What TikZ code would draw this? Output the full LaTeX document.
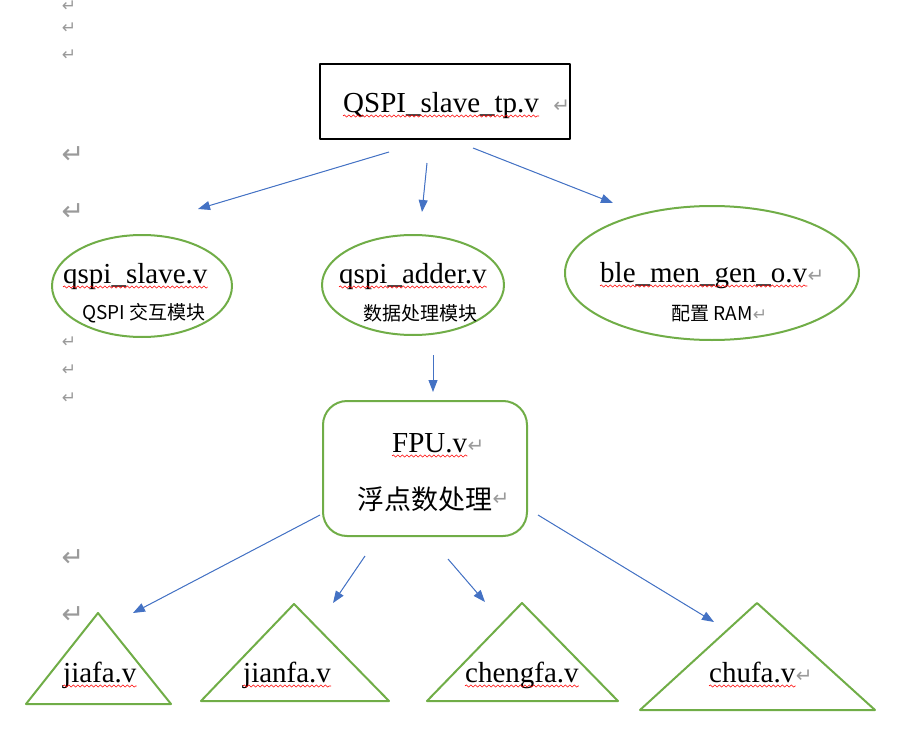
\documentclass[tikz,border=0pt]{standalone}
\usepackage{fontspec}
\setmainfont{Liberation Serif}
\newfontfamily\cjk{Noto Sans CJK SC}
\newfontfamily\symf{DejaVu Sans}
\usetikzlibrary{arrows.meta,decorations.pathmorphing}
\definecolor{wordblue}{HTML}{4472C4}
\definecolor{wordgreen}{HTML}{70AD47}
\definecolor{markgray}{HTML}{9A9A9A}
\tikzset{
  fname/.style={font=\fontsize{29}{30}\selectfont, inner sep=0pt, anchor=base west},
  zhsmall/.style={font=\cjk\fontsize{19}{20}\selectfont, inner sep=0pt},
  zhbig/.style={font=\cjk\fontsize{27}{28}\selectfont, inner sep=0pt},
  retmark/.style={text=markgray, font=\symf\fontsize{20}{21}\selectfont, inner sep=0pt},
  retsmall/.style={text=markgray, font=\symf\fontsize{17}{18}\selectfont, inner sep=0pt},
  retbig/.style={text=markgray, font=\symf\fontsize{27}{28}\selectfont, inner sep=0pt},
  link/.style={draw=wordblue, line width=1pt, -{Triangle[length=12pt,width=9pt]}, fill=wordblue},
  greenline/.style={draw=wordgreen, line width=2pt},
  squig/.style={draw=red, line width=0.6pt, decorate,
    decoration={snake, amplitude=1.1pt, segment length=4.5pt}},
}
\begin{document}
\begin{tikzpicture}[x=1pt, y=-1pt, line join=round]
  \useasboundingbox (0,0) rectangle (906,744);
  % left margin paragraph marks
  \foreach \y [count=\i] in {6,28,55,342,370,398}
    \node[retsmall] (ms\i) at (69,\y) {↵};
  \foreach \y [count=\i] in {155,212,558,615}
    \node[retbig] (mb\i) at (73,\y) {↵};
  % top module
  \draw[line width=2pt] (320,64) rectangle (570,139);
  \node[fname] (top) at (343,112) {QSPI\_slave\_tp.v};
  \node[retmark, anchor=base west] (topr) at ([xshift=14pt]top.base east) {↵};
  % second level
  \draw[greenline] (142,286) ellipse [x radius=90, y radius=51];
  \draw[greenline] (413,285) ellipse [x radius=91, y radius=50];
  \draw[greenline] (712,273) ellipse [x radius=147, y radius=67];
  \node[fname] (slave) at (63,283) {qspi\_slave.v};
  \node[zhsmall] (slavezh) at (144,313) {QSPI 交互模块};
  \node[fname] (adder) at (339,283) {qspi\_adder.v};
  \node[zhsmall] (adderzh) at (420,313) {数据处理模块};
  \node[fname] (ram) at (600,282) {ble\_men\_gen\_o.v};
  \node[retmark, anchor=base west] (ramr) at (ram.base east) {↵};
  \node[zhsmall, anchor=base west] (ramzh) at (671,320) {配置 RAM};
  \node[retsmall, anchor=base west] (ramzhr) at (ramzh.base east) {↵};
  % FPU
  \draw[greenline, rounded corners=24pt] (323,401) rectangle (527,536);
  \node[fname] (fpu) at (392,452) {FPU.v};
  \node[retmark, anchor=base west] (fpur) at (fpu.base east) {↵};
  \node[zhbig, anchor=west] (fpuzh) at (357,499) {浮点数处理};
  \node[retmark, anchor=west] (fpuzhr) at (fpuzh.east) {↵};
  % leaves
  \draw[greenline] (26,704) -- (98,613) -- (171,704) -- cycle;
  \draw[greenline] (201,701) -- (294,604) -- (389,701) -- cycle;
  \draw[greenline] (427,701) -- (522,603) -- (618,701) -- cycle;
  \draw[greenline] (640,710) -- (757,603) -- (875,710) -- cycle;
  \node[fname] (jia) at (63,682) {jiafa.v};
  \node[fname] (jian) at (243,682) {jianfa.v};
  \node[fname] (cheng) at (465,682) {chengfa.v};
  \node[fname] (chu) at (709,682) {chufa.v};
  \node[retmark, anchor=base west] (chur) at (chu.base east) {↵};
  % spelling marks
  \foreach \n in {top,slave,adder,ram,fpu,jia,jian,cheng,chu}
    \draw[squig] ([yshift=-4pt]\n.base west) -- ([yshift=-4pt]\n.base east);
  % connectors
  \coordinate (t1) at (389,152); \coordinate (s1) at (198,209);
  \coordinate (t2) at (427,163); \coordinate (s2) at (422,212);
  \coordinate (t3) at (473,148); \coordinate (s3) at (613,203);
  \coordinate (a1) at (433,355); \coordinate (f1) at (433,392);
  \coordinate (f2) at (320,515); \coordinate (l1) at (133,613);
  \coordinate (f3) at (365,556); \coordinate (l2) at (333,603);
  \coordinate (f4) at (448,559); \coordinate (l3) at (485,602);
  \coordinate (f5) at (538,515); \coordinate (l4) at (714,622);
  \draw[link] (t1) -- (s1);
  \draw[link] (t2) -- (s2);
  \draw[link] (t3) -- (s3);
  \draw[link] (a1) -- (f1);
  \draw[link] (f2) -- (l1);
  \draw[link] (f3) -- (l2);
  \draw[link] (f4) -- (l3);
  \draw[link] (f5) -- (l4);
\end{tikzpicture}
\end{document}
